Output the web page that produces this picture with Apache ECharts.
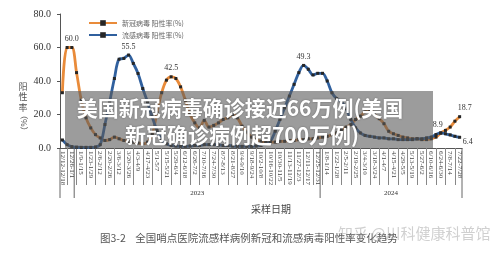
<!DOCTYPE html>
<html>
<head>
<meta charset="utf-8">
<script src="https://cdn.jsdelivr.net/npm/echarts@6/dist/echarts.min.js"></script>
<style>
html, body { margin: 0; padding: 0; background: #fff; }
#chart { width: 500px; height: 253px; }
</style>
</head>
<body>
<div id="chart"></div>
<script>
// weekly sampling periods, 2022-12-12 .. 2024-07-28
const weeks = [
  '12/12-12/18', '12/19-12/25', '12/26-1/1',
  '1/2-1/8', '1/9-1/15', '1/16-1/22', '1/23-1/29', '1/30-2/5', '2/6-2/12', '2/13-2/19', '2/20-2/26',
  '2/27-3/5', '3/6-3/12', '3/13-3/19', '3/20-3/26', '3/27-4/2', '4/3-4/9', '4/10-4/16', '4/17-4/23',
  '4/24-4/30', '5/1-5/7', '5/8-5/14', '5/15-5/21', '5/22-5/28', '5/29-6/4', '6/5-6/11', '6/12-6/18',
  '6/19-6/25', '6/26-7/2', '7/3-7/9', '7/10-7/16', '7/17-7/23', '7/24-7/30', '7/31-8/6', '8/7-8/13',
  '8/14-8/20', '8/21-8/27', '8/28-9/3', '9/4-9/10', '9/11-9/17', '9/18-9/24', '9/25-10/1', '10/2-10/8',
  '10/9-10/15', '10/16-10/22', '10/23-10/29', '10/30-11/5', '11/6-11/12', '11/13-11/19', '11/20-11/26',
  '11/27-12/3', '12/4-12/10', '12/11-12/17', '12/18-12/24', '12/25-12/31',
  '1/1-1/7', '1/8-1/14', '1/15-1/21', '1/22-1/28', '1/29-2/4', '2/5-2/11', '2/12-2/18', '2/19-2/25',
  '2/26-3/3', '3/4-3/10', '3/11-3/17', '3/18-3/24', '3/25-3/31', '4/1-4/7', '4/8-4/14', '4/15-4/21',
  '4/22-4/28', '4/29-5/5', '5/6-5/12', '5/13-5/19', '5/20-5/26', '5/27-6/2', '6/3-6/9', '6/10-6/16',
  '6/17-6/23', '6/24-6/30', '7/1-7/7', '7/8-7/14', '7/15-7/21', '7/22-7/28'
];

const covidRate = [
  33, 60, 60, 45, 28.5, 18, 12, 8, 6, 4.5, 5, 6.5, 5.5, 4.5, 4, 3.5, 3, 2.5, 3.5, 8,
  21, 33, 40.5, 42.5, 41.5, 36.5, 28.5, 20, 15, 12, 16.5, 12.5, 13.5, 15, 17, 18, 20, 18, 13, 9.5,
  6.5, 5, 4, 3.5, 3.5, 3.5, 4, 4, 4.5, 4.5, 5, 5, 5.5, 5.5, 6, 6.5, 7, 8, 9, 11,
  12.5, 14, 17, 19, 21.5, 23, 20, 17.5, 14.5, 10, 8.5, 7.5, 6.5, 6, 5.5, 5.5, 5, 5, 5.5, 6.5,
  8.9, 10.5, 12.5, 16, 18.7
];

const fluRate = [
  4.8, 2, 0.8, 0.5, 0.4, 0.4, 0.4, 0.6, 2, 14, 27.5, 41.5, 53, 53.5, 55.5, 50.5, 44.5, 35.5, 27.5, 18.5,
  10.5, 5, 2.5, 1.5, 1.2, 1, 1, 1.2, 1.5, 1.5, 2, 2, 2, 1.8, 1.5, 1.5, 1.2, 1, 1, 1,
  1, 1.2, 1.5, 2.5, 4, 10, 17, 24, 31, 38, 45, 49.3, 47, 43.6, 44.6, 44.6, 40, 33, 29.5, 27.6,
  23.5, 17, 12, 9, 7.5, 7, 6.5, 6, 6, 5.5, 5.5, 5, 5, 5, 5, 5.5, 5.5, 6, 6.5, 8,
  9, 8.5, 7.8, 7, 6.4
];

const seriesNames = ['新冠病毒 阳性率(%)', '流感病毒 阳性率(%)'];
const yearNames = ['2023', '2024'];
const yearFirstWeek = [3, 55];

// which points carry a value label, and the label nudge
const covidLabels = { 2: [0, 0], 23: [0, 0], 80: [-3, 0], 84: [5, 0] };
const fluLabels = { 14: [0, 0], 51: [0, 0], 84: [8, 13] };

const serif = '"Liberation Serif", "DejaVu Serif", serif';
const cjk = '"Noto Sans CJK SC", sans-serif';

function withLabels(values, marks) {
  return values.map((v, i) => marks[i] ? { value: v, label: { show: true, offset: marks[i] } } : v);
}

function lineSeries(name, values, marks, color) {
  return {
    name: name,
    type: 'line',
    data: withLabels(values, marks),
    smooth: 0.35,
    symbol: 'rect',
    symbolSize: 3,
    showAllSymbol: true,
    lineStyle: { color: color, width: 2.8 },
    itemStyle: { color: '#262626' },
    label: {
      show: false,
      position: 'top',
      distance: 3,
      formatter: p => Number(p.value).toFixed(1),
      fontFamily: serif,
      fontSize: 8,
      color: '#333'
    },
    emphasis: { disabled: true },
    z: 3
  };
}

const chart = echarts.init(document.getElementById('chart'), null, { renderer: 'canvas' });

chart.setOption({
  animation: false,
  backgroundColor: '#fff',
  grid: { left: 60, right: 38, top: 14, bottom: 105 },
  legend: {
    left: 83,
    top: 14,
    orient: 'vertical',
    itemWidth: 28,
    itemHeight: 7,
    itemGap: 4,
    textStyle: { fontFamily: cjk, fontSize: 7, color: '#666', lineHeight: 8 },
    data: seriesNames
  },
  xAxis: {
    type: 'category',
    data: weeks,
    boundaryGap: true,
    name: '采样日期',
    nameLocation: 'middle',
    nameGap: 56,
    nameTextStyle: { fontFamily: cjk, fontSize: 10, color: '#444', padding: [0, 0, 0, 20] },
    axisLine: { lineStyle: { color: '#555', width: 1 } },
    axisTick: {
      show: true,
      alignWithLabel: true,
      interval: (i) => i % 2 === 1,
      length: 37,
      lineStyle: { color: '#888', width: 1 }
    },
    axisLabel: {
      interval: 1,
      rotate: -90,
      margin: 3,
      fontFamily: serif,
      fontSize: 7,
      color: '#444'
    }
  },
  yAxis: {
    type: 'value',
    min: 0,
    max: 80,
    interval: 20,
    axisLine: { show: true, lineStyle: { color: '#555', width: 1 } },
    axisTick: { show: true, length: 3, lineStyle: { color: '#555' } },
    splitLine: { show: false },
    axisLabel: {
      formatter: v => v.toFixed(1),
      fontFamily: serif,
      fontSize: 10,
      color: '#333',
      margin: 9
    }
  },
  series: [
    lineSeries(seriesNames[0], covidRate, covidLabels, '#E98B3A'),
    lineSeries(seriesNames[1], fluRate, fluLabels, '#30609E')
  ]
});

// year separators and year names under the week labels
const px = i => chart.convertToPixel({ xAxisIndex: 0 }, i);
const band = px(1) - px(0);
const edge = i => px(0) + (i - 0.5) * band;
const baseY = chart.convertToPixel({ yAxisIndex: 0 }, 0);
const breaks = [0].concat(yearFirstWeek, [weeks.length]);

const graphics = [];
breaks.forEach(b => {
  graphics.push({
    type: 'line',
    shape: { x1: edge(b), y1: baseY, x2: edge(b), y2: baseY + 50 },
    style: { stroke: '#666', lineWidth: 1 }
  });
});
yearNames.forEach((name, k) => {
  const from = yearFirstWeek[k];
  const to = k + 1 < yearFirstWeek.length ? yearFirstWeek[k + 1] : weeks.length;
  graphics.push({
    type: 'text',
    x: (edge(from) + edge(to)) / 2,
    y: baseY + 45,
    style: { text: name, font: '7px ' + serif, fill: '#333', align: 'center', verticalAlign: 'middle' }
  });
});

// y axis title, written vertically
graphics.push({
  type: 'text',
  x: 23,
  y: 81,
  style: { text: '阳\n性\n率', font: '9px ' + cjk, lineHeight: 10.5, fill: '#555', align: 'center' }
});
graphics.push({
  type: 'text',
  x: 24,
  y: 123,
  rotation: -Math.PI / 2,
  style: { text: '（%）', font: '8px ' + cjk, fill: '#555', align: 'center', verticalAlign: 'middle' }
});

// figure caption and watermark
graphics.push({
  type: 'text',
  x: 100,
  y: 238,
  style: { text: '图3-2    全国哨点医院流感样病例新冠和流感病毒阳性率变化趋势', font: '10.5px ' + cjk, fill: '#555', verticalAlign: 'middle' }
});
graphics.push({
  type: 'text',
  x: 338,
  y: 233,
  z: 50,
  style: { text: '知乎 @川科健康科普馆', font: '15px ' + cjk, fill: 'rgba(150,150,150,0.45)', verticalAlign: 'middle' }
});

// headline banner laid over the plot
graphics.push({
  type: 'rect',
  z: 100,
  shape: { x: 65, y: 91, width: 368, height: 57 },
  style: { fill: 'rgba(90,90,90,0.6)' }
});
graphics.push({
  type: 'text',
  z: 101,
  x: 240,
  y: 108,
  style: {
    text: '美国新冠病毒确诊接近66万例(美国',
    font: 'bold 21px ' + cjk, fill: '#fff', align: 'center', verticalAlign: 'middle',
    textShadowColor: 'rgba(0,0,0,0.35)', textShadowBlur: 2
  }
});
graphics.push({
  type: 'text',
  z: 101,
  x: 242,
  y: 135,
  style: {
    text: '新冠确诊病例超700万例)',
    font: 'bold 21px ' + cjk, fill: '#fff', align: 'center', verticalAlign: 'middle',
    textShadowColor: 'rgba(0,0,0,0.35)', textShadowBlur: 2
  }
});

chart.setOption({ graphic: graphics });
</script>
</body>
</html>
